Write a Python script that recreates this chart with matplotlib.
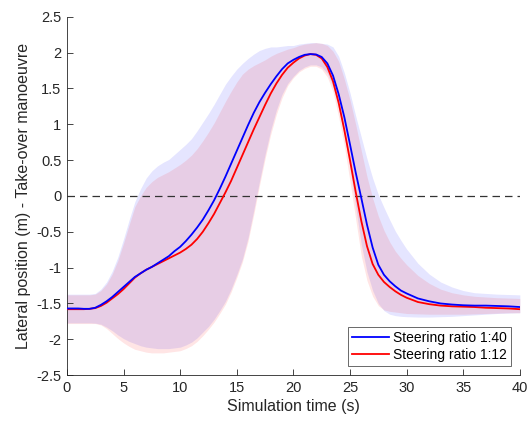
import numpy as np
import matplotlib
matplotlib.use("Agg")
import matplotlib.pyplot as plt

plt.rcParams['font.family'] = ['Liberation Sans', 'DejaVu Sans']

# time grid (s)
t = np.concatenate([np.arange(0, 30.01, 0.5), np.arange(31, 40.01, 1.0)])

# Steering ratio 1:40 (blue) mean and band
blue_mean = [-1.57, -1.57, -1.57, -1.575, -1.575, -1.56, -1.52, -1.47, -1.41, -1.34,
             -1.27, -1.2, -1.13, -1.08, -1.03, -0.99, -0.94, -0.89, -0.84, -0.77,
             -0.71, -0.63, -0.54, -0.44, -0.33, -0.2, -0.06, 0.1, 0.27, 0.45,
             0.63, 0.81, 0.99, 1.16, 1.31, 1.44, 1.56, 1.67, 1.77, 1.85,
             1.9, 1.94, 1.97, 1.98, 1.975, 1.94, 1.85, 1.68, 1.42, 1.1,
             0.72, 0.33, -0.03, -0.4, -0.72, -0.96, -1.1, -1.19, -1.26, -1.32,
             -1.36, -1.43, -1.47, -1.5, -1.515, -1.525, -1.53, -1.53, -1.535, -1.54, -1.55]
blue_upper = [-1.37, -1.37, -1.37, -1.37, -1.37, -1.36, -1.3, -1.2, -1.05, -0.85,
              -0.6, -0.33, -0.08, 0.1, 0.25, 0.35, 0.42, 0.47, 0.51, 0.58,
              0.65, 0.72, 0.8, 0.91, 1.03, 1.15, 1.28, 1.42, 1.56, 1.67,
              1.77, 1.85, 1.92, 1.98, 2.03, 2.06, 2.08, 2.08, 2.09, 2.1,
              2.1, 2.12, 2.13, 2.14, 2.14, 2.13, 2.12, 2.08, 1.95, 1.72,
              1.44, 1.12, 0.82, 0.52, 0.25, 0.02, -0.16, -0.33, -0.49, -0.62,
              -0.74, -0.94, -1.09, -1.2, -1.27, -1.32, -1.35, -1.36, -1.37, -1.375, -1.38]
blue_lower = [-1.77, -1.77, -1.77, -1.77, -1.77, -1.775, -1.79, -1.83, -1.88, -1.94,
              -1.99, -2.03, -2.06, -2.09, -2.11, -2.12, -2.13, -2.13, -2.13, -2.12,
              -2.11, -2.08, -2.04, -1.98, -1.9, -1.82, -1.72, -1.6, -1.47, -1.3,
              -1.1, -0.88, -0.58, -0.2, 0.2, 0.58, 0.92, 1.2, 1.42, 1.57,
              1.67, 1.75, 1.8, 1.83, 1.83, 1.8, 1.71, 1.52, 1.22, 0.85,
              0.38, -0.15, -0.68, -1.06, -1.32, -1.5, -1.6, -1.65, -1.67, -1.68,
              -1.685, -1.69, -1.69, -1.685, -1.68, -1.67, -1.66, -1.65, -1.64, -1.635, -1.63]

# Steering ratio 1:12 (red) mean and band
red_mean = [-1.58, -1.58, -1.58, -1.58, -1.575, -1.565, -1.535, -1.49, -1.43, -1.37,
            -1.3, -1.22, -1.14, -1.08, -1.03, -0.99, -0.95, -0.91, -0.87, -0.83,
            -0.79, -0.74, -0.68, -0.6, -0.5, -0.38, -0.25, -0.1, 0.05, 0.21,
            0.39, 0.57, 0.75, 0.93, 1.1, 1.27, 1.43, 1.57, 1.69, 1.79,
            1.86, 1.92, 1.96, 1.98, 1.97, 1.92, 1.8, 1.6, 1.3, 0.92,
            0.5, 0.06, -0.35, -0.7, -0.95, -1.1, -1.2, -1.27, -1.33, -1.38,
            -1.42, -1.48, -1.51, -1.53, -1.54, -1.545, -1.55, -1.56, -1.565, -1.57, -1.58]
red_upper = [-1.38, -1.38, -1.38, -1.38, -1.38, -1.37, -1.32, -1.23, -1.09, -0.9,
             -0.66, -0.4, -0.15, 0.0, 0.12, 0.2, 0.26, 0.3, 0.34, 0.39,
             0.44, 0.5, 0.57, 0.66, 0.77, 0.89, 1.02, 1.17, 1.32, 1.46,
             1.59, 1.7, 1.77, 1.82, 1.86, 1.9, 1.95, 1.99, 2.02, 2.05,
             2.07, 2.1, 2.12, 2.13, 2.14, 2.13, 2.1, 2.02, 1.88, 1.63,
             1.34, 1.0, 0.63, 0.27, -0.03, -0.28, -0.48, -0.64, -0.77, -0.87,
             -0.96, -1.11, -1.22, -1.3, -1.35, -1.38, -1.4, -1.41, -1.42, -1.425, -1.43]
red_lower = [-1.78, -1.78, -1.78, -1.78, -1.78, -1.78, -1.8, -1.85, -1.92, -1.99,
             -2.05, -2.1, -2.14, -2.16, -2.18, -2.19, -2.19, -2.19, -2.18, -2.17,
             -2.16, -2.13, -2.09, -2.03, -1.95, -1.86, -1.76, -1.64, -1.51, -1.34,
             -1.14, -0.92, -0.63, -0.26, 0.14, 0.52, 0.86, 1.14, 1.37, 1.54,
             1.65, 1.73, 1.78, 1.81, 1.81, 1.77, 1.66, 1.45, 1.1, 0.7,
             0.2, -0.32, -0.84, -1.18, -1.4, -1.53, -1.59, -1.61, -1.62, -1.63,
             -1.64, -1.645, -1.65, -1.65, -1.65, -1.65, -1.645, -1.64, -1.635, -1.63, -1.63]

labels = ["Steering ratio 1:40", "Steering ratio 1:12"]
xticks = [0, 5, 10, 15, 20, 25, 30, 35, 40]
yticks = [-2.5, -2, -1.5, -1, -0.5, 0, 0.5, 1, 1.5, 2, 2.5]
ytick_labels = ["-2.5", "-2", "-1.5", "-1", "-0.5", "0", "0.5", "1", "1.5", "2", "2.5"]

fig = plt.figure(figsize=(5.31, 4.21), dpi=100)
ax = fig.add_axes([0.126, 0.109, 0.853, 0.851])

ax.fill_between(t, blue_lower, blue_upper, color=(0, 0, 1), alpha=0.1, linewidth=0, zorder=1)
ax.fill_between(t, red_lower, red_upper, color=(1, 0, 0), alpha=0.1, linewidth=0, zorder=1)
ax.plot([0, 40], [0, 0], linestyle=(0, (6, 4)), color=(0.2, 0.2, 0.2), linewidth=0.9, zorder=2)
lr, = ax.plot(t, red_mean, color=(1, 0, 0), linewidth=1.3, zorder=3)
lb, = ax.plot(t, blue_mean, color=(0, 0, 1), linewidth=1.3, zorder=4)

ax.set_xlim(0, 40)
ax.set_ylim(-2.5, 2.5)
ax.set_xticks(xticks)
ax.set_yticks(yticks)
ax.set_yticklabels(ytick_labels)
grey = (0.15, 0.15, 0.15)
for s in ['top', 'right']:
    ax.spines[s].set_visible(False)
for s in ['left', 'bottom']:
    ax.spines[s].set_color(grey)
    ax.spines[s].set_linewidth(0.6)
ax.tick_params(direction='in', length=4, width=0.6, colors=grey, labelsize=10.5, pad=4)
ax.set_xlabel("Simulation time (s)", fontsize=11.5, color=grey, labelpad=3)
ax.set_ylabel("Lateral position (m) - Take-over manoeuvre", fontsize=11.5, color=grey, labelpad=4)

leg = ax.legend([lb, lr], labels, loc='lower right', bbox_to_anchor=(0.98, 0.025),
                fontsize=10, frameon=True, fancybox=False, handlelength=2.6,
                handletextpad=0.3, borderpad=0.3, labelspacing=0.2, borderaxespad=0)
leg.get_frame().set_edgecolor((0.15, 0.15, 0.15))
leg.get_frame().set_linewidth(0.6)

fig.savefig("out.png", dpi=100)
